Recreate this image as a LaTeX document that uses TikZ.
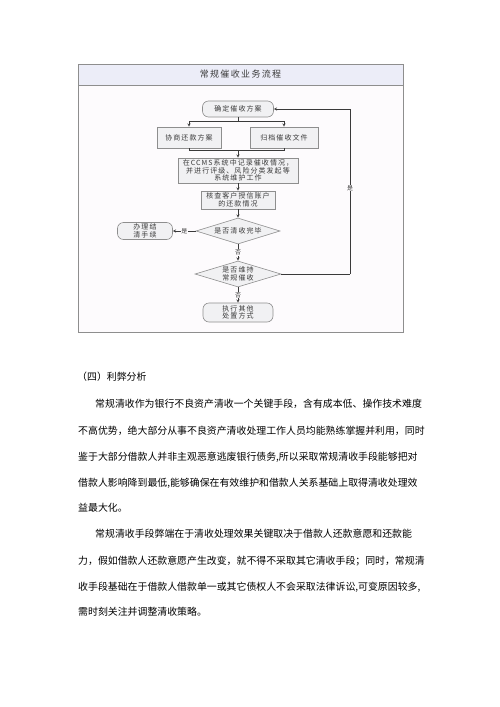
\documentclass[tikz,border=0pt]{standalone}
\usepackage{fontspec}
\usepackage{tikz}
\usetikzlibrary{arrows,positioning,shapes.geometric}

\newfontfamily\cjk{Noto Sans CJK SC}
\newfontfamily\cjkwide[LetterSpace=15]{Noto Sans CJK SC}
\definecolor{framebg}{HTML}{FDFBFD}
\definecolor{titlebg}{HTML}{ECEDF8}
\definecolor{edgegray}{HTML}{8E8E8E}
\definecolor{boxfill}{HTML}{F1F1F3}
\definecolor{inkgray}{HTML}{3A3A3A}

\begin{document}
\begin{tikzpicture}[
  x=1pt, y=-1pt,
  box/.style={rectangle, draw=edgegray, fill=boxfill, line width=0.6pt, align=center,
    text=inkgray, font=\cjkwide\fontsize{7}{7.6}\selectfont, inner sep=1pt},
  rbox/.style={box, rounded corners=6pt},
  decision/.style={box, diamond, aspect=3.2, inner sep=0pt},
  link/.style={->, >=stealth, draw=inkgray, line width=0.5pt},
  wire/.style={draw=inkgray, line width=0.5pt},
  tag/.style={fill=framebg, inner sep=0.6pt, text=inkgray, font=\cjk\fontsize{6}{6}\selectfont},
  para/.style={anchor=west, inner sep=0pt, text=black, font=\cjk\fontsize{9.9}{12}\selectfont}
]
  \useasboundingbox (0,0) rectangle (500,707);

  % frame and title bar
  \draw[edgegray, fill=framebg, line width=0.8pt] (78,64) rectangle (403,332);
  \draw[edgegray, fill=titlebg, line width=0.8pt] (78,64) rectangle (403,85);
  \node[inner sep=0pt, text=inkgray, font=\cjkwide\fontsize{9}{10}\selectfont] (title) at (240.5,74.5) {常规催收业务流程};

  \node[rbox, minimum width=71pt, minimum height=16pt] (fix) at (238,109) {确定催收方案};
  \node[box, minimum width=64pt, minimum height=21pt] (nego) at (189,137.5) {协商还款方案};
  \node[box, minimum width=68pt, minimum height=21pt] (archive) at (284,137.5) {归档催收文件};
  \node[box, minimum width=120pt, minimum height=25pt] (ccms) at (238,170.5) {在CCMS系统中记录催收情况，\\并进行评级、风险分类发起等\\系统维护工作};
  \node[box, minimum width=74pt, minimum height=18pt, below of=ccms, node distance=29.5pt] (check) {核查客户授信账户\\的还款情况};
  \node[decision, minimum width=84pt, minimum height=26pt, below of=check, node distance=31pt] (done) {是否清收完毕};
  \node[rbox, minimum width=55pt, minimum height=17pt, left of=done, node distance=93pt] (settle) {办理结\\清手续};
  \node[decision, minimum width=86pt, minimum height=26pt, below of=done, node distance=43pt] (keep) {是否维持\\常规催收};
  \node[rbox, minimum width=70pt, minimum height=19pt, below of=keep, node distance=38.5pt] (other) {执行其他\\处置方式};

  \coordinate (split) at (238,121);
  \coordinate (join) at (238,150);
  \coordinate (corner) at (350,274);

  \draw[wire] (fix) -- (split);
  \draw[link] (split) -| (nego);
  \draw[link] (split) -| (archive);
  \draw[wire] (nego) |- (join);
  \draw[wire] (archive) |- (join);
  \draw[link] (join) -- (ccms);
  \draw[link] (ccms) -- (check);
  \draw[link] (check) -- (done);
  \draw[link] (done) -- node[tag] {是} (settle);
  \draw[link] (done) -- node[tag] {否} (keep);
  \draw[link] (keep) -- node[tag] {否} (other);
  \draw[wire] (keep) -- (corner);
  \draw[link] (corner) |- node[tag, pos=0.26] {是} (fix);

  % text below the chart
  \node[para] (head) at (77,377) {（四）利弊分析};
  \node[para] (p1a) at (95,404) {常规清收作为银行不良资产清收一个关键手段，含有成本低、操作技术难度};
  \node[para] (p1b) at (78,431) {不高优势，绝大部分从事不良资产清收处理工作人员均能熟练掌握并利用，同时};
  \node[para] (p1c) at (78,457) {鉴于大部分借款人并非主观恶意逃废银行债务,所以采取常规清收手段能够把对};
  \node[para] (p1d) at (78,483) {借款人影响降到最低,能够确保在有效维护和借款人关系基础上取得清收处理效};
  \node[para] (p1e) at (78,508) {益最大化。};
  \node[para] (p2a) at (95,534) {常规清收手段弊端在于清收处理效果关键取决于借款人还款意愿和还款能};
  \node[para] (p2b) at (78,561) {力，假如借款人还款意愿产生改变，就不得不采取其它清收手段；同时，常规清};
  \node[para] (p2c) at (78,587) {收手段基础在于借款人借款单一或其它债权人不会采取法律诉讼,可变原因较多,};
  \node[para] (p2d) at (78,612) {需时刻关注并调整清收策略。};
\end{tikzpicture}
\end{document}
